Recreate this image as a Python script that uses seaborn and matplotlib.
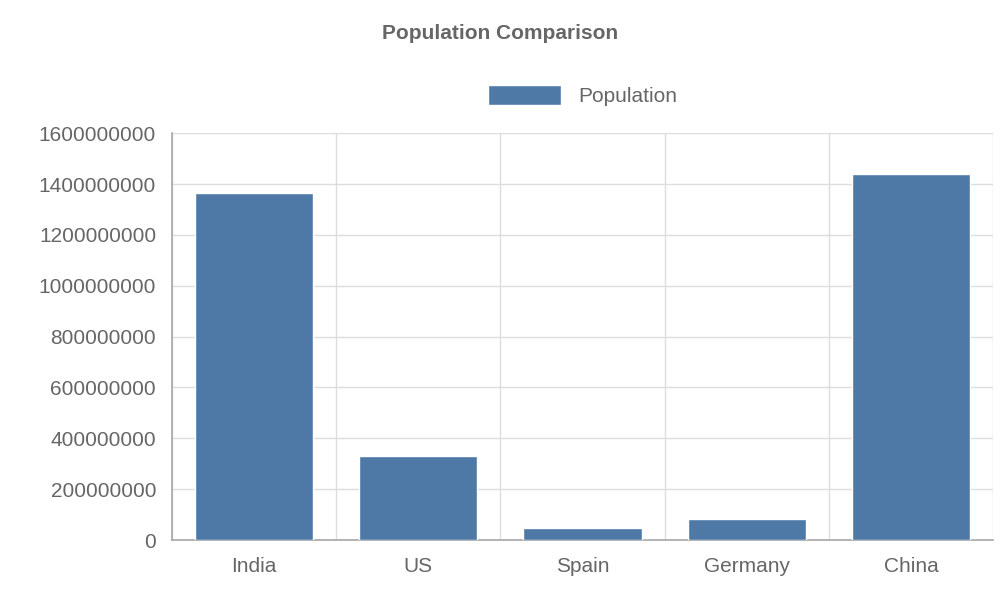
import matplotlib
matplotlib.use("Agg")
import matplotlib.pyplot as plt
import numpy as np
import pandas as pd
import seaborn as sns

countries = ["India", "US", "Spain", "Germany", "China"]
population = [1366000000, 330000000, 47000000, 83000000, 1441000000]

df = pd.DataFrame({"country": countries, "population": population})

sns.set_theme(style="white", font="Liberation Sans")
fig = plt.figure(figsize=(10, 6), dpi=100)
ax = fig.add_axes([0.172, 0.1, 0.821, 0.678])

sns.barplot(data=df, x="country", y="population", color="#4e79a7",
            width=0.72, saturation=1, ax=ax, label="Population", zorder=3)

ax.set_ylim(0, 1600000000)
ax.set_yticks(np.arange(0, 1600000001, 200000000))
ax.set_yticklabels([f"{int(v)}" for v in ax.get_yticks()])
ax.set_xlim(-0.5, len(countries) - 0.5)
for b in np.arange(-0.5, len(countries), 1.0):
    ax.axvline(b, color="#dddddd", lw=1, zorder=0)
ax.grid(axis="y", color="#dddddd", lw=1, zorder=0)
ax.set_axisbelow(True)

for s in ["top", "right"]:
    ax.spines[s].set_visible(False)
for s in ["left", "bottom"]:
    ax.spines[s].set_color("#aaaaaa")

ax.set_xlabel("")
ax.set_ylabel("")
ax.tick_params(axis="y", labelsize=15, colors="#666666", length=8, color="#aaaaaa")
ax.tick_params(axis="x", labelsize=15, colors="#666666", length=0, pad=12)
# tick marks at category boundaries below the axis
ax.set_xticks(np.arange(-0.5, len(countries), 1.0), minor=True)
ax.tick_params(axis="x", which="minor", length=18, color="#aaaaaa")

ax.legend(loc="lower center", bbox_to_anchor=(0.5, 1.02), frameon=False,
          fontsize=15, labelcolor="#666666", handlelength=3.5, handleheight=1.1)
fig.suptitle("Population Comparison", y=0.96, fontsize=15, fontweight="bold", color="#666666")

fig.savefig("out.png", dpi=100)
